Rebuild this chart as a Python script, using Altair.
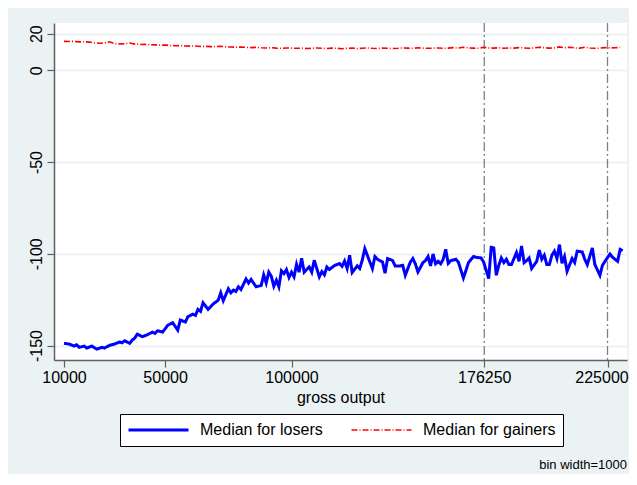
import altair as alt
import pandas as pd

# ---- data (gross output in thousands, bin width = 1000) ----
losers_output_k = [10, 12, 14, 15, 16, 18, 19, 21, 23, 25, 26, 28, 30, 32, 33, 34, 36, 37, 38, 39,
                   41, 43, 45, 46, 47, 49, 50, 51, 53, 55, 56, 58, 59, 61, 62, 63, 64, 65, 67, 69,
                   71, 72, 73, 75, 76, 77, 78, 79, 80, 82, 83, 84, 86, 88, 89, 90, 91, 92, 93, 94,
                   95, 96, 97, 98, 99, 100, 101, 102, 103, 104, 105, 107, 108, 109, 111, 112, 113, 114, 115, 117,
                   119, 120, 121, 122, 123, 124, 126, 127, 128, 129, 131, 132, 133, 134, 136, 137, 138, 140, 141, 143,
                   144, 145, 147, 148, 149, 150, 152, 153, 154, 155, 156, 157, 158, 159, 160, 161, 162, 163, 165, 166,
                   168, 169, 170, 172, 173, 175, 176, 178, 179, 180, 181, 182, 183, 184, 185, 186, 187, 189, 190, 191,
                   192, 193, 194, 195, 197, 198, 199, 200, 201, 202, 203, 204, 205, 206, 207, 208, 209, 211, 212, 213,
                   215, 216, 217, 219, 220, 222, 223, 224, 226, 227, 229, 230, 231]
losers_median = [-148.8, -149.2, -150.3, -149.6, -151.0, -150.3, -151.4, -150.3, -152.0, -151.0, -151.4, -149.9, -149.2, -148.1, -148.5, -147.4, -148.8, -147.0, -145.9, -143.8,
                 -145.2, -144.1, -142.7, -143.4, -142.0, -142.7, -140.9, -139.0, -137.6, -141.6, -136.1, -137.2, -134.3, -132.9, -133.6, -130.3, -131.4, -126.7, -130.3, -127.4,
                 -125.3, -121.3, -125.6, -119.1, -121.3, -119.8, -120.5, -118.0, -119.5, -113.7, -115.9, -114.0, -118.0, -117.3, -111.5, -115.9, -110.0, -112.2, -117.7, -114.4,
                 -118.0, -109.3, -110.8, -108.6, -112.9, -110.0, -112.6, -105.7, -110.0, -102.4, -110.0, -107.2, -110.0, -103.5, -112.6, -109.7, -111.5, -107.2, -108.6, -106.4,
                 -105.3, -106.8, -103.9, -108.0, -100.8, -110.2, -106.6, -108.0, -103.4, -97.2, -104.5, -108.0, -101.5, -103.0, -104.5, -110.6, -102.6, -103.7, -106.6, -106.6,
                 -106.3, -111.7, -104.5, -102.6, -105.5, -109.9, -104.8, -103.7, -101.5, -106.6, -100.1, -105.5, -104.1, -105.5, -103.0, -97.6, -105.2, -103.7, -103.0, -104.5,
                 -113.2, -109.1, -104.8, -101.5, -101.9, -102.3, -104.5, -113.5, -96.5, -96.8, -111.7, -106.3, -102.3, -104.8, -103.0, -105.9, -105.9, -99.3, -104.1, -95.8,
                 -104.8, -103.7, -102.3, -108.0, -104.1, -98.0, -103.0, -100.8, -105.9, -105.9, -100.8, -98.6, -102.6, -95.0, -105.2, -101.5, -109.5, -102.6, -104.8, -98.6,
                 -99.0, -103.0, -105.9, -96.8, -105.9, -111.7, -106.3, -104.1, -100.1, -101.9, -104.1, -97.6, -98.3]

gainers_output_k = [10, 12, 14, 16, 18, 20, 22, 24, 26, 28, 30, 32, 34, 36, 38, 40, 42, 44, 46, 48,
                    50, 52, 54, 56, 58, 60, 62, 64, 66, 68, 70, 72, 74, 76, 78, 80, 82, 84, 86, 88,
                    90, 92, 94, 96, 98, 100, 102, 104, 106, 108, 110, 112, 114, 116, 118, 120, 122, 124, 126, 128,
                    130, 132, 134, 136, 138, 140, 142, 144, 146, 148, 150, 152, 154, 156, 158, 160, 162, 164, 166, 168,
                    170, 172, 174, 176, 178, 180, 182, 184, 186, 188, 190, 192, 194, 196, 198, 200, 202, 204, 206, 208,
                    210, 212, 214, 216, 218, 220, 222, 224, 226, 228, 230]
gainers_median = [15.8, 15.7, 15.8, 15.5, 15.6, 15.4, 15.0, 14.8, 14.9, 15.6, 14.6, 14.4, 14.5, 14.9, 14.3, 14.1, 14.2, 14.0, 13.9, 13.7,
                  13.8, 13.5, 13.4, 13.5, 13.3, 13.2, 13.3, 13.0, 13.1, 12.9, 13.0, 13.1, 12.8, 12.7, 12.6, 12.7, 12.5, 12.4, 12.5, 12.3,
                  12.2, 12.3, 12.1, 12.0, 12.2, 12.1, 12.0, 12.1, 11.9, 12.0, 12.2, 12.0, 11.9, 12.1, 12.0, 11.8, 12.0, 12.1, 11.9, 12.0,
                  12.2, 12.0, 11.9, 12.1, 12.0, 11.9, 12.0, 12.2, 12.1, 12.0, 12.3, 12.1, 12.0, 12.1, 12.2, 12.0, 12.1, 12.4, 12.1, 12.6,
                  12.2, 12.1, 12.0, 12.6, 12.2, 12.1, 12.3, 12.0, 12.2, 12.1, 12.4, 12.2, 12.0, 12.2, 12.6, 12.3, 12.1, 12.2, 12.8, 12.3,
                  12.6, 12.2, 12.1, 12.6, 12.2, 12.0, 12.1, 12.4, 12.2, 12.3, 12.5]

series_names = ["Median for losers", "Median for gainers"]
series_colors = ["#0000FF", "#FF0000"]
series_dash = [[1, 0], [6, 2, 1, 2]]
series_width = [3.0, 1.6]

vline_positions = [176250, 225000]
x_tick_values = [10000, 50000, 100000, 176250, 225000]
y_tick_values = [20, 0, -50, -100, -150]
x_domain = [6044, 232713]
y_domain = [-157.9, 25.8]

FONT = "Liberation Sans"

rows = []
for k, v in zip(losers_output_k, losers_median):
    rows.append({"output": k * 1000, "median": v, "series": series_names[0]})
for k, v in zip(gainers_output_k, gainers_median):
    rows.append({"output": k * 1000, "median": v, "series": series_names[1]})
df = pd.DataFrame(rows)
df_vl = pd.DataFrame({"output": vline_positions})

x_scale = alt.Scale(domain=x_domain, nice=False, zero=False)
y_scale = alt.Scale(domain=y_domain, nice=False, zero=False)

last_label_shift = {"condition": {"test": "datum.value === 225000", "value": -6}, "value": 0}

lines = alt.Chart(df).mark_line(clip=True).encode(
    x=alt.X("output:Q", scale=x_scale,
            axis=alt.Axis(values=x_tick_values, labelExpr="'' + datum.value", title="gross output",
                          labelFontSize=16, labelFont=FONT, labelColor="black",
                          labelFlush=False, labelPadding=2, labelOverlap=False,
                          labelOffset=last_label_shift,
                          tickSize=7, tickColor="#606060", tickWidth=1.2,
                          domainColor="#606060", domainWidth=1.5, grid=False,
                          titleFont=FONT, titleFontSize=16, titleFontWeight="normal",
                          titleColor="black", titlePadding=4)),
    y=alt.Y("median:Q", scale=y_scale,
            axis=alt.Axis(values=y_tick_values, labelExpr="'' + datum.value", title=None, labelAngle=270,
                          labelAlign="center", labelBaseline="alphabetic",
                          labelFontSize=16, labelFont=FONT, labelColor="black",
                          labelPadding=6, labelOverlap=False, labelFlush=False,
                          tickSize=7, tickColor="#606060", tickWidth=1.2,
                          domainColor="#606060", domainWidth=1.5,
                          grid=True, gridColor="#E6EEF1", gridWidth=1.6)),
    color=alt.Color("series:N", scale=alt.Scale(domain=series_names, range=series_colors),
                    legend=alt.Legend(title=None, orient="none", legendX=66, legendY=391,
                                      direction="horizontal", columns=2,
                                      symbolType="stroke", symbolSize=3600,
                                      labelFontSize=16, labelFont=FONT, labelColor="black",
                                      labelOffset=10, labelLimit=400, columnPadding=27,
                                      padding=7, clipHeight=18,
                                      strokeColor="black", fillColor="white")),
    strokeDash=alt.StrokeDash("series:N", scale=alt.Scale(domain=series_names, range=series_dash), legend=None),
    strokeWidth=alt.StrokeWidth("series:N", scale=alt.Scale(domain=series_names, range=series_width), legend=None),
    order=alt.Order("output:Q"),
)

vlines = alt.Chart(df_vl).mark_rule(color="#808080", strokeWidth=1.3, strokeDash=[9, 3, 2, 3]).encode(
    x=alt.X("output:Q", scale=x_scale)
)

chart = alt.layer(vlines, lines).properties(
    width=573, height=337,
    autosize=alt.AutoSizeParams(type="none"),
    padding={"left": 46, "top": 15, "right": 2, "bottom": 114},
    background="#EAF2F3",
    title=alt.TitleParams(text="bin width=1000", orient="bottom", anchor="end", frame="group",
                          fontSize=13, fontWeight="normal", font=FONT, color="black", offset=12),
).configure_view(fill="white", strokeWidth=0)

chart.save("out.html", embed_options={"renderer": "svg", "actions": False})
